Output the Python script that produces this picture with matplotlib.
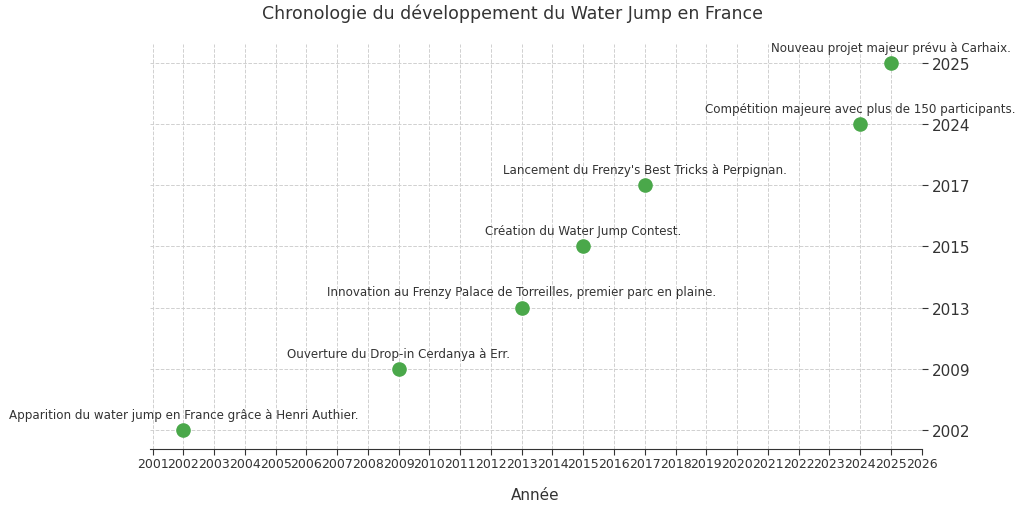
import matplotlib
matplotlib.use("Agg")
import matplotlib.pyplot as plt

years = [2002, 2009, 2013, 2015, 2017, 2024, 2025]
events = [
    "Apparition du water jump en France grâce à Henri Authier.",
    "Ouverture du Drop-in Cerdanya à Err.",
    "Innovation au Frenzy Palace de Torreilles, premier parc en plaine.",
    "Création du Water Jump Contest.",
    "Lancement du Frenzy's Best Tricks à Perpignan.",
    "Compétition majeure avec plus de 150 participants.",
    "Nouveau projet majeur prévu à Carhaix.",
]
xticks = list(range(2001, 2027))

fig = plt.figure(figsize=(10.24, 5.06), dpi=100)
ax = fig.add_axes([0.146, 0.111, 0.754, 0.80])
pos = list(range(len(years)))
ax.scatter(years, pos, s=90, color="#4aa84a", zorder=3)
for x, y, t in zip(years, pos, events):
    ax.text(x, y + 0.15, t, ha="center", va="bottom", fontsize=8.6, color="#333333")
ax.set_xlim(2000.9, 2026)
ax.set_ylim(-0.31, 6.31)
ax.set_xticks(xticks)
ax.set_xticklabels([str(v) for v in xticks], fontsize=9, color="#333333")
ax.set_yticks(pos)
ax.set_yticklabels([str(v) for v in years], fontsize=11, color="#333333")
ax.yaxis.tick_right()
for s in ["top", "left", "right"]:
    ax.spines[s].set_visible(False)
ax.spines["bottom"].set_color("#333333")
ax.tick_params(axis="y", length=4, color="#333333")
ax.tick_params(axis="x", length=4, color="#333333", pad=2)
ax.grid(True, linestyle="--", color="#d0d0d0", linewidth=0.7)
ax.set_axisbelow(True)
ax.set_xlabel("Année", fontsize=11, color="#333333", labelpad=12)
fig.suptitle("Chronologie du développement du Water Jump en France", fontsize=12.5, color="#333333", y=0.992)
fig.savefig("out.png", dpi=100)
